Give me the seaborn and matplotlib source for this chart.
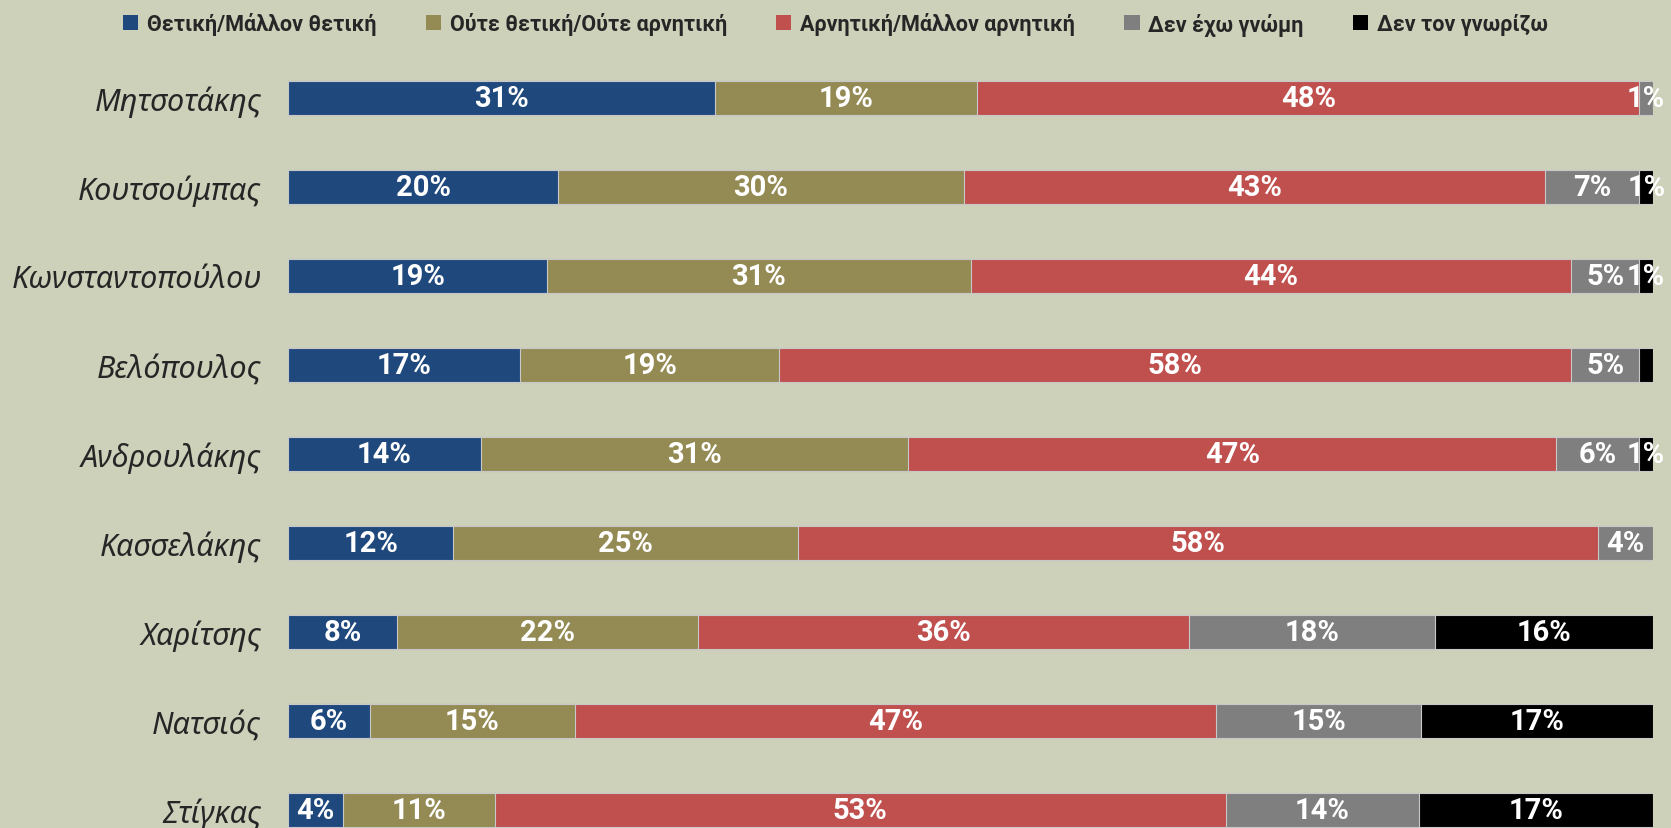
import numpy as np
import pandas as pd
import matplotlib
matplotlib.use("Agg")
import matplotlib.pyplot as plt
from matplotlib.patches import Patch
import seaborn as sns

# --- data (values in %) ---
names = ['Μητσοτάκης', 'Κουτσούμπας', 'Κωνσταντοπούλου', 'Βελόπουλος',
         'Ανδρουλάκης', 'Κασσελάκης', 'Χαρίτσης', 'Νατσιός', 'Στίγκας']
categories = ['Θετική/Μάλλον θετική', 'Ούτε θετική/Ούτε αρνητική',
              'Αρνητική/Μάλλον αρνητική', 'Δεν έχω γνώμη', 'Δεν τον γνωρίζω']
positive = [31, 20, 19, 17, 14, 12, 8, 6, 4]
neutral = [19, 30, 31, 19, 31, 25, 22, 15, 11]
negative = [48, 43, 44, 58, 47, 58, 36, 47, 53]
no_opinion = [1, 7, 5, 5, 6, 4, 18, 15, 14]
unknown = [0, 1, 1, 1, 1, 0, 16, 17, 17]
# segment that carries no label in the original
no_label = {('Βελόπουλος', 'Δεν τον γνωρίζω')}

colors = ['#1F497D', '#948A54', '#C0504D', '#7F7F7F', '#000000']
bg = '#CDD1BA'

df = pd.DataFrame(dict(zip(categories, [positive, neutral, negative, no_opinion, unknown])),
                  index=names)
# 100% stacked: each row normalised to its own total
shares = df.div(df.sum(axis=1), axis=0) * 100
cum = shares.cumsum(axis=1)

sns.set_style("white")
plt.rcParams['font.family'] = ['Noto Sans', 'DejaVu Sans']
bold_font = ['Roboto', 'DejaVu Sans']

fig = plt.figure(figsize=(16.71, 8.29), dpi=100, facecolor=bg)
ax = fig.add_axes([288 / 1671, 0, (1653 - 288) / 1671, (829 - 54.5) / 829])
ax.set_facecolor(bg)

# draw the cumulative totals from the outermost layer inwards
for cat, color in reversed(list(zip(categories, colors))):
    sns.barplot(x=cum[cat].values, y=names, orient='h', color=color,
                width=0.38, saturation=1, errorbar=None, ax=ax,
                edgecolor='#C8C8C8', linewidth=0.8)

for i, name in enumerate(names):
    for cat in categories:
        v = df.loc[name, cat]
        if v <= 0 or (name, cat) in no_label:
            continue
        x = cum.loc[name, cat] - shares.loc[name, cat] / 2
        ax.text(x, i, f'{v}%', ha='center', va='center', color='white',
                fontsize=21, fontweight='bold', family=bold_font)

ax.set_xlim(0, 100)
ax.set_ylim(8 + 18 / 89, -0.5)
ax.set_xlabel('')
ax.set_ylabel('')
ax.set_xticks([])
ax.tick_params(axis='y', length=0, pad=19)
for lbl in ax.get_yticklabels():
    lbl.set_fontstyle('italic')
    lbl.set_fontsize(22)
for s in ax.spines.values():
    s.set_visible(False)

handles = [Patch(facecolor=c, edgecolor='none', label=cat) for cat, c in zip(categories, colors)]
fig.legend(handles=handles, loc='center', bbox_to_anchor=(0.5, 1 - 25 / 829), ncol=5,
           frameon=False, handlelength=0.7, handleheight=0.7, handletextpad=0.4,
           columnspacing=2.3, prop={'size': 15.5, 'weight': 'bold', 'family': bold_font})

fig.savefig('out.png', dpi=100, facecolor=bg)
